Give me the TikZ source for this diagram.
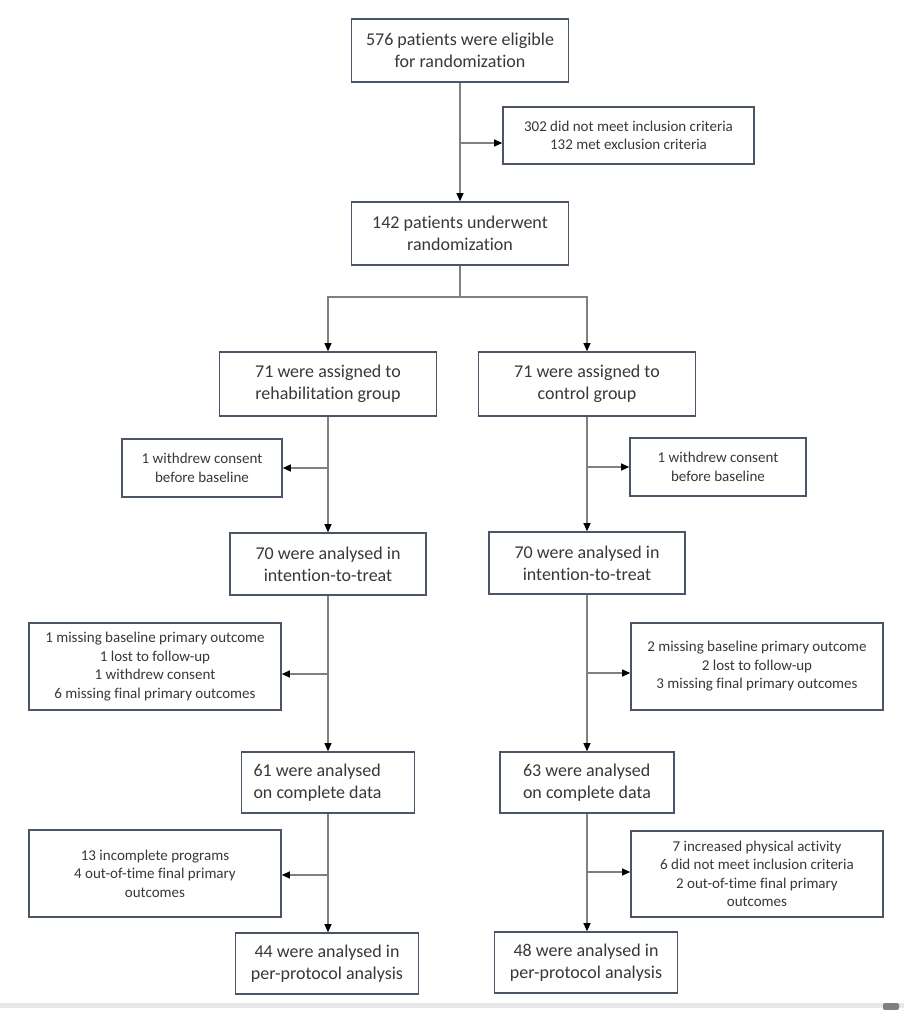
\documentclass[tikz,border=0pt]{standalone}
\usepackage{fontspec}
\setmainfont{Carlito}[Ligatures=NoCommon]
\usetikzlibrary{arrows.meta}
\definecolor{boxc}{HTML}{4A5568}
\definecolor{linec}{HTML}{808080}
\definecolor{txt}{HTML}{383838}
\begin{document}
\begin{tikzpicture}[x=1pt,y=-1pt,
  box/.style={draw=boxc, line width=1.6pt, fill=white, text=txt, align=center, inner sep=0pt, font=\fontsize{18}{22}\selectfont},
  sbox/.style={box, font=\fontsize{15}{18.5}\selectfont},
  conn/.style={draw=linec, line width=1.1pt},
  arr/.style={conn, -{Triangle[length=8pt,width=7pt,color=black]}}]
\useasboundingbox (0,0) rectangle (904,1010);
% nodes
\node[box, minimum width=217pt, minimum height=63pt] (n1) at (460,50.5) {576 patients were eligible\\for randomization};
\node[sbox, minimum width=251pt, minimum height=57pt] (ex1) at (628.5,135.5) {302 did not meet inclusion criteria\\132 met exclusion criteria};
\node[box, minimum width=217pt, minimum height=63pt] (n2) at (460,233.5) {142 patients underwent\\randomization};
\node[box, minimum width=217pt, minimum height=64pt] (rehab) at (328,384) {71 were assigned to\\rehabilitation group};
\node[box, minimum width=217pt, minimum height=64pt] (ctrl) at (587,384) {71 were assigned to\\control group};
\node[sbox, minimum width=160pt, minimum height=58pt] (wl) at (202,468) {1 withdrew consent\\before baseline};
\node[sbox, minimum width=176pt, minimum height=58pt] (wr) at (718,467) {1 withdrew consent\\before baseline};
\node[box, minimum width=196pt, minimum height=62pt] (itl) at (328,564) {70 were analysed in\\intention-to-treat};
\node[box, minimum width=196pt, minimum height=62pt] (itr) at (587,563) {70 were analysed in\\intention-to-treat};
\node[sbox, minimum width=252pt, minimum height=87pt] (exl) at (155,666.5) {1 missing baseline primary outcome\\1 lost to follow-up\\1 withdrew consent\\6 missing final primary outcomes};
\node[sbox, minimum width=252pt, minimum height=87pt] (exr) at (757,666.5) {2 missing baseline primary outcome\\2 lost to follow-up\\3 missing final primary outcomes};
\node[box, align=flush left, text width=149pt, inner xsep=12pt, minimum height=61pt] (cl) at (328,782.5) {61 were analysed\\on complete data};
\node[box, align=left, minimum width=174pt, minimum height=61pt] (cr) at (587,782.5) {63 were analysed\\on complete data};
\node[sbox, minimum width=252pt, minimum height=87pt] (dl) at (155,873.5) {13 incomplete programs\\4 out-of-time final primary\\outcomes};
\node[sbox, minimum width=252pt, minimum height=86pt] (dr) at (757,874) {7 increased physical activity\\6 did not meet inclusion criteria\\2 out-of-time final primary\\outcomes};
\node[box, minimum width=183pt, minimum height=61pt] (ppl) at (327,963.5) {44 were analysed in\\per-protocol analysis};
\node[box, minimum width=183pt, minimum height=61pt] (ppr) at (586,962.5) {48 were analysed in\\per-protocol analysis};
% connectors
\coordinate (b1) at (460,143);
\draw[arr] (n1.south) -- (n2.north);
\draw[arr] (b1) -- (ex1.west |- b1);
\coordinate (sp) at (460,297);
\draw[conn] (n2.south) -- (sp);
\draw[arr] (sp) -| (rehab.north);
\draw[arr] (sp) -| (ctrl.north);
% left column
\draw[arr] (rehab.south) -- (itl.north);
\coordinate (bl1) at (328,468);
\draw[arr] (bl1) -- (wl.east |- bl1);
\draw[arr] (itl.south) -- (cl.north);
\coordinate (bl2) at (328,674);
\draw[arr] (bl2) -- (exl.east |- bl2);
\draw[arr] (cl.south) -- (ppl.north -| cl.south);
\coordinate (bl3) at (328,875);
\draw[arr] (bl3) -- (dl.east |- bl3);
% right column
\draw[arr] (ctrl.south) -- (itr.north);
\coordinate (br1) at (587,467);
\draw[arr] (br1) -- (wr.west |- br1);
\draw[arr] (itr.south) -- (cr.north);
\coordinate (br2) at (587,673);
\draw[arr] (br2) -- (exr.west |- br2);
\draw[arr] (cr.south) -- (ppr.north -| cr.south);
\coordinate (br3) at (587,872);
\draw[arr] (br3) -- (dr.west |- br3);
% bottom screen bar
\fill[black!9] (0,1003) rectangle (904,1008);
\fill[black!50, rounded corners=2pt] (883,1003) rectangle (899,1010);
\end{tikzpicture}
\end{document}
